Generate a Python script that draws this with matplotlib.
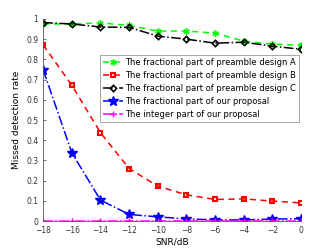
import matplotlib.pyplot as plt

snr = [-18, -16, -14, -12, -10, -8, -6, -4, -2, 0]

design_a = [0.975, 0.975, 0.98, 0.968, 0.94, 0.94, 0.93, 0.89, 0.875, 0.87]
design_b = [0.871, 0.672, 0.437, 0.26, 0.173, 0.13, 0.107, 0.11, 0.099, 0.09]
design_c = [0.982, 0.975, 0.96, 0.958, 0.915, 0.90, 0.88, 0.885, 0.865, 0.85]
proposal_frac = [0.748, 0.338, 0.104, 0.033, 0.021, 0.011, 0.006, 0.006, 0.01, 0.012]
proposal_int = [0, 0, 0, 0, 0, 0, 0, 0, 0, 0]

labels = ['The fractional part of preamble design A',
          'The fractional part of preamble design B',
          'The fractional part of preamble design C',
          'The fractional part of our proposal',
          'The integer part of our proposal']

fig = plt.figure(figsize=(3.32, 2.49), dpi=100)
ax = fig.add_axes([0.13, 0.112, 0.777, 0.812])

ax.plot(snr, design_a, color='#00ff00', ls=(0, (4, 3)), lw=1.1, marker=(6, 2, 0), ms=4.5, mew=1, label=labels[0])
ax.plot(snr, design_b, color='red', ls=(0, (4, 3)), lw=1.1, marker='s', ms=3.5, mfc='none', mew=1.5, label=labels[1])
ax.plot(snr, design_c, color='black', ls='-.', lw=1.1, marker='D', ms=3.2, mfc='none', mew=1.2, label=labels[2])
ax.plot(snr, proposal_frac, color='blue', ls='-.', lw=1.1, marker='*', ms=7, label=labels[3])
ax.plot(snr, proposal_int, color='magenta', ls='-.', lw=1.1, marker='+', ms=4.5, mew=1, label=labels[4])

ax.set_xlim(-18, 0)
ax.set_ylim(0, 1)
ax.set_xticks(snr)
ax.set_yticks([i / 10 for i in range(11)])
ax.set_yticklabels(['0', '0.1', '0.2', '0.3', '0.4', '0.5', '0.6', '0.7', '0.8', '0.9', '1'])
ax.tick_params(direction='in', labelsize=5.5, length=2, width=0.5, colors='#333333')
ax.spines['top'].set_visible(False)
ax.spines['right'].set_visible(False)
for s in ['left', 'bottom']:
    ax.spines[s].set_color('#555555')
    ax.spines[s].set_linewidth(0.6)

ax.set_xlabel('SNR/dB', fontsize=6.5, labelpad=2)
ax.set_ylabel('Missed detection rate', fontsize=6.5, labelpad=4)

leg = ax.legend(loc='upper right', bbox_to_anchor=(0.992, 0.82), fontsize=6, fancybox=False,
                framealpha=1, edgecolor='#999999', handlelength=2.4, handletextpad=0.25,
                borderpad=0.35, labelspacing=0.48, borderaxespad=0)
leg.get_frame().set_linewidth(0.6)

fig.savefig('out.png', dpi=100)
